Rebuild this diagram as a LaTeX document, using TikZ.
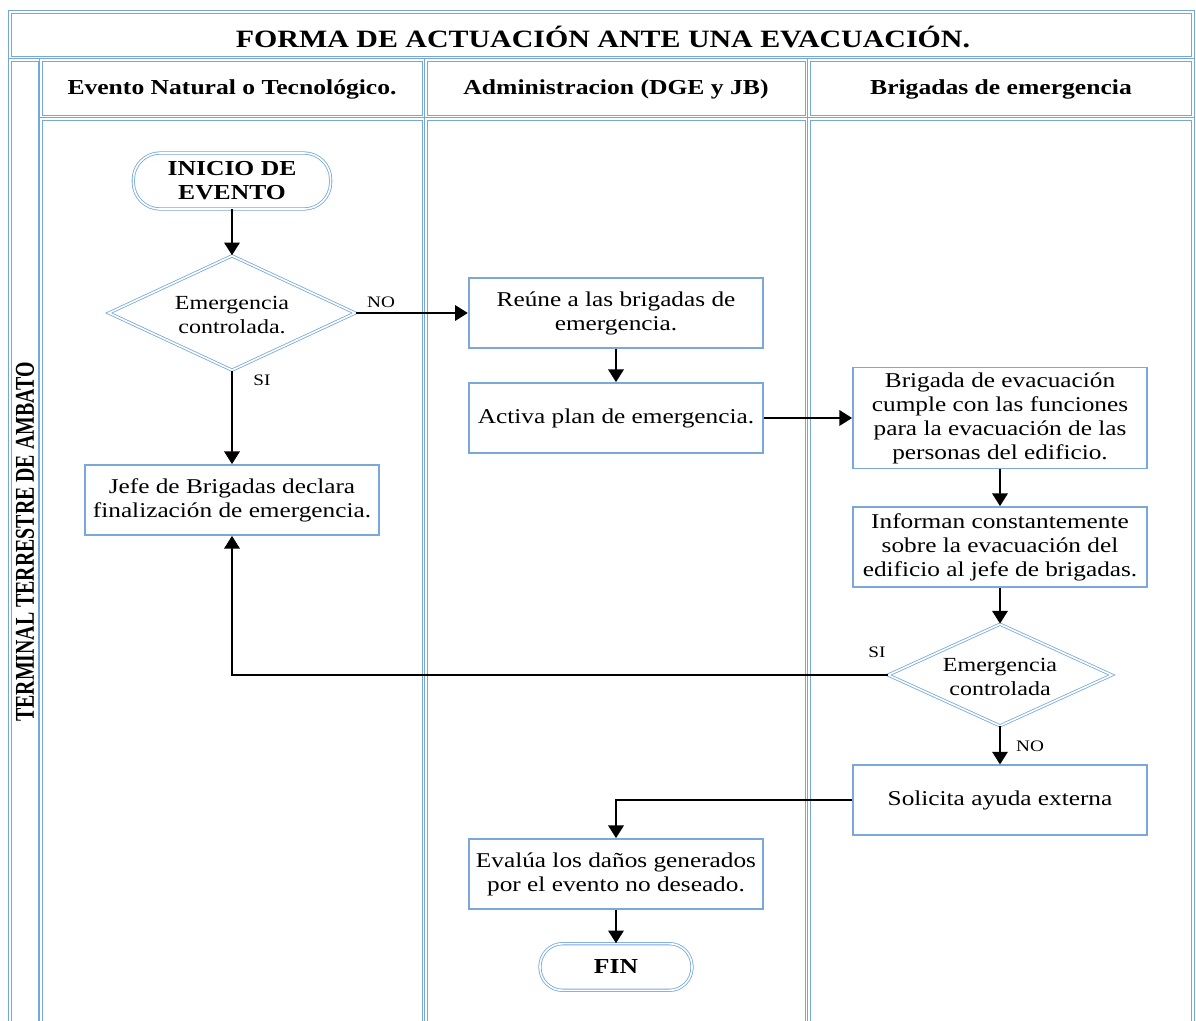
\documentclass[tikz,border=0pt]{standalone}
\usepackage{fontspec}
\setmainfont{Liberation Serif}[FakeStretch=1.2]
\newfontfamily\sidefont{Liberation Serif}[FakeStretch=0.73]
\usetikzlibrary{shapes.geometric,arrows.meta}
\definecolor{laneblue}{RGB}{116,168,220}
\definecolor{boxblue}{RGB}{122,168,218}
\tikzset{
  lane/.style={draw=laneblue, line width=1pt, double=white, double distance=1.1pt},
  procbox/.style={draw=boxblue, line width=1.3pt, fill=white, rectangle, inner sep=0pt,
    align=center, font=\fontsize{15.8}{18}\selectfont},
  decision/.style={diamond, draw=laneblue, line width=0.6pt, double=white, double distance=1.2pt, inner sep=0pt},
  dtext/.style={align=center, font=\fontsize{15}{18}\selectfont},
  terminator/.style={rectangle, draw=laneblue, line width=0.6pt, double=white, double distance=1.2pt,
    inner sep=0pt, align=center, font=\bfseries\fontsize{16}{18}\selectfont},
  flow/.style={line width=1.6pt, -{Triangle[width=11.5pt,length=9.5pt]}},
  lbl/.style={font=\fontsize{12}{14}\selectfont, inner sep=0pt},
  headtext/.style={font=\bfseries\fontsize{16}{19}\selectfont},
}
\begin{document}
\begin{tikzpicture}[x=0.75pt, y=-0.75pt]
\useasboundingbox (0,0) rectangle (1196,1021);

% swimlane frame
\begin{scope}
  \clip (0,0) rectangle (1196,1021);
  \draw[lane] (10,12) rectangle (1193,58);
  \draw[lane] (10,60) rectangle (40,1040);
  \draw[lane] (41,60) rectangle (424,117);
  \draw[lane] (426,60) rectangle (807,117);
  \draw[lane] (809,60) rectangle (1193,117);
  \draw[lane] (41,119) rectangle (424,1040);
  \draw[lane] (426,119) rectangle (807,1040);
  \draw[lane] (809,119) rectangle (1193,1040);
\end{scope}

% titles
\node[font=\bfseries\fontsize{18.7}{22}\selectfont] (title) at (603,37) {FORMA DE ACTUACIÓN ANTE UNA EVACUACIÓN.};
\node[headtext] (h1) at (232,89.5) {Evento Natural o Tecnológico.};
\node[headtext] (h2) at (616,89.5) {Administracion (DGE y JB)};
\node[headtext] (h3) at (1001,89.5) {Brigadas de emergencia};
\node[rotate=90, font=\sidefont\bfseries\fontsize{20.4}{22}\selectfont] (side) at (25,542) {TERMINAL TERRESTRE DE AMBATO};

% flow nodes
\node[terminator, minimum width=148pt, minimum height=42pt, rounded corners=20pt] (start) at (232,181) {INICIO DE\\EVENTO};
\node[decision, minimum width=185pt, minimum height=86pt] (d1) at (232,313) {};
\node[dtext] (d1t) at ([yshift=-1.5pt]d1.center) {Emergencia\\controlada.};
\node[procbox, minimum width=221pt, minimum height=52.5pt] (reune) at (616,313) {Reúne a las brigadas de\\emergencia.};
\node[procbox, minimum width=221pt, minimum height=52.5pt] (activa) at (616,418) {Activa plan de emergencia.};
\node[procbox, minimum width=220.5pt, minimum height=75.75pt] (brig) at (1000,418) {Brigada de evacuación\\cumple con las funciones\\para la evacuación de las\\personas del edificio.};
\node[procbox, minimum width=220.5pt, minimum height=60pt] (inform) at (1000,547) {Informan constantemente\\sobre la evacuación del\\edificio al jefe de brigadas.};
\node[decision, minimum width=168pt, minimum height=76.5pt] (d2) at (1000,675) {};
\node[dtext] (d2t) at ([yshift=-1.5pt]d2.center) {Emergencia\\controlada};
\node[procbox, minimum width=220.5pt, minimum height=52.5pt] (jefe) at (232,500) {Jefe de Brigadas declara\\finalización de emergencia.};
\node[procbox, minimum width=220.5pt, minimum height=52pt] (solic) at (1000,800) {Solicita ayuda externa};
\node[procbox, minimum width=221pt, minimum height=52.5pt] (eval) at (616,874) {Evalúa los daños generados\\por el evento no deseado.};
\node[terminator, minimum width=114pt, minimum height=35pt, rounded corners=17pt] (fin) at (616,967) {FIN};

% connectors
\draw[flow] (start.south) -- (d1.north);
\draw[flow] (d1.east) -- (reune.west);
\node[lbl] (no1) at (381,302) {NO};
\draw[flow] (d1.south) -- (jefe.north);
\node[lbl] (si1) at (262,380) {SI};
\draw[flow] (reune.south) -- (activa.north);
\draw[flow] (activa.east) -- (brig.west);
\draw[flow] (brig.south) -- (inform.north);
\draw[flow] (inform.south) -- (d2.north);
\draw[flow] (d2.west) -| (jefe.south);
\node[lbl] (si2) at (877,652) {SI};
\draw[flow] (d2.south) -- (solic.north);
\node[lbl] (no2) at (1030,746) {NO};
\draw[flow] (solic.west) -| (eval.north);
\draw[flow] (eval.south) -- (fin.north);
\end{tikzpicture}
\end{document}
